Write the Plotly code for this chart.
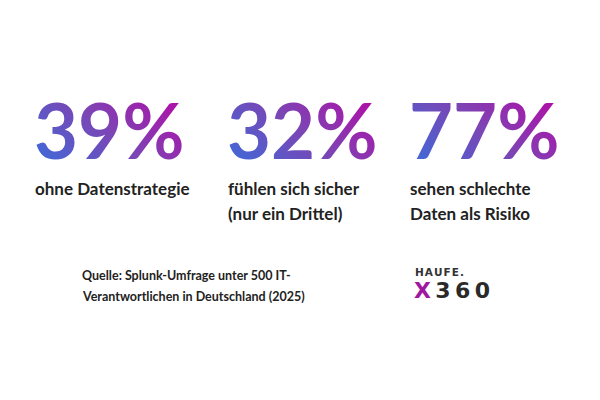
import plotly.graph_objects as go

values = [39, 32, 77]
value_x = [35, 228, 410]
labels = [
    ["ohne Datenstrategie"],
    ["fühlen sich sicher", "(nur ein Drittel)"],
    ["sehen schlechte", "Daten als Risiko"],
]
source_lines = [
    "Quelle: Splunk-Umfrage unter 500 IT-",
    "Verantwortlichen in Deutschland (2025)",
]
logo_top = "HAUFE."
logo_bottom_mark = "X"
logo_bottom_num = "360"

W, H = 600, 400

def px(x):
    return x / W

def py(y):
    return 1 - y / H

fig = go.Figure()
annotations = []
for v, x, lab in zip(values, value_x, labels):
    annotations.append(dict(
        x=px(x - 3), y=py(129), xref="paper", yref="paper",
        xanchor="left", yanchor="middle", showarrow=False,
        text=f"{v}%", align="left",
        font=dict(family="Lato", size=76, color="#7a45b5", weight="bold"),
    ))
    for i, line in enumerate(lab):
        annotations.append(dict(
            x=px(x - 2), y=py(188.5 + 25 * i), xref="paper", yref="paper",
            xanchor="left", yanchor="middle", showarrow=False,
            text=line, align="left",
            font=dict(family="Lato", size=17, color="#222222", weight="bold"),
        ))

for i, line in enumerate(source_lines):
    annotations.append(dict(
        x=px(80), y=py(275.5 + 21 * i), xref="paper", yref="paper",
        xanchor="left", yanchor="middle", showarrow=False,
        text=line, align="left",
        font=dict(family="Lato", size=12.5, color="#222222", weight="bold"),
    ))

annotations.append(dict(
    x=px(413), y=py(272), xref="paper", yref="paper",
    xanchor="left", yanchor="middle", showarrow=False,
    text="\u200a".join(logo_top), align="left",
    font=dict(family="DejaVu Sans", size=10.5, color="#333333", weight="bold"),
))
annotations.append(dict(
    x=px(412), y=py(290), xref="paper", yref="paper",
    xanchor="left", yanchor="middle", showarrow=False,
    text=f'<span style="color:#a0189e">{logo_bottom_mark}</span>\u2009' + "\u2009".join(logo_bottom_num),
    align="left",
    font=dict(family="DejaVu Sans", size=22, color="#2a2a2a", weight="bold"),
))

fig.update_layout(
    width=W, height=H,
    margin=dict(l=0, r=0, t=0, b=0),
    paper_bgcolor="white", plot_bgcolor="white",
    xaxis=dict(visible=False), yaxis=dict(visible=False),
    annotations=annotations,
    showlegend=False,
)

post = """
document.body.style.margin='0';
document.documentElement.style.margin='0';
var gd = document.getElementsByClassName('plotly-graph-div')[0];
function applyGrad(){
  var svg = gd.querySelector('svg.main-svg');
  if(!svg) return;
  var ns = 'http://www.w3.org/2000/svg';
  var defs = svg.querySelector('defs');
  if(!defs){ defs = document.createElementNS(ns,'defs'); svg.insertBefore(defs, svg.firstChild); }
  if(!svg.querySelector('#bigGrad')){
    var g = document.createElementNS(ns,'linearGradient');
    g.setAttribute('id','bigGrad');
    g.setAttribute('x1','0'); g.setAttribute('y1','0.85');
    g.setAttribute('x2','1'); g.setAttribute('y2','0.15');
    [['0','#3d6bd9'],['0.5','#7d44b4'],['1','#b40aa6']].forEach(function(s){
      var st = document.createElementNS(ns,'stop');
      st.setAttribute('offset',s[0]); st.setAttribute('stop-color',s[1]);
      g.appendChild(st);
    });
    defs.appendChild(g);
  }
  gd.querySelectorAll('text.annotation-text').forEach(function(t){
    if(t.textContent.indexOf('%')>=0){ t.style.fill='url(#bigGrad)'; }
  });
}
applyGrad();
gd.on('plotly_afterplot', applyGrad);
"""

fig.write_html("out.html", post_script=post, config={"displayModeBar": False})
